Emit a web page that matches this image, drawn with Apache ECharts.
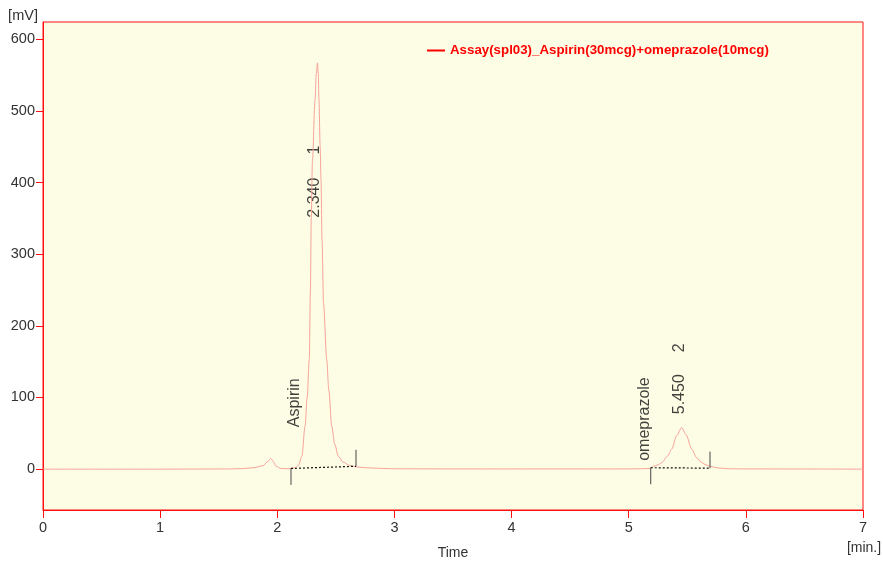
<!DOCTYPE html>
<html>
<head>
<meta charset="utf-8">
<script src="https://cdn.jsdelivr.net/npm/echarts@6/dist/echarts.min.js"></script>
<style>
  html, body { margin: 0; padding: 0; background: #fff; }
  #chart { width: 883px; height: 565px; }
</style>
</head>
<body>
<div id="chart"></div>
<script>
// trace: retention time [min] / signal [mV]
const traceName = 'Assay(spl03)_Aspirin(30mcg)+omeprazole(10mcg)'
const times = [0, 0.5, 1.0, 1.4, 1.6, 1.7, 1.8, 1.88, 1.92, 1.944, 1.965, 1.99, 2.03, 2.1,
  2.15, 2.18, 2.21, 2.237, 2.255, 2.273, 2.283, 2.29, 2.3, 2.322, 2.333, 2.343,
  2.35, 2.356, 2.366, 2.373, 2.382, 2.395, 2.422, 2.44, 2.465, 2.49, 2.521, 2.56,
  2.621, 2.68, 2.75, 2.9, 3.0, 3.5, 4.0, 4.5, 5.0, 5.1,
  5.188, 5.21, 5.25, 5.282, 5.33, 5.367, 5.41, 5.452, 5.49, 5.538, 5.58, 5.623,
  5.66, 5.694, 5.75, 5.85, 6.0, 6.5, 7.0]
const signal = [0, 0, 0, 0.2, 0.3, 0.8, 2, 5, 11, 15, 11, 4, 1, 0.5,
  2, 5, 18, 60, 100, 153, 250, 350, 430, 515, 552, 567,
  552, 515, 450, 404, 320, 230, 153, 110, 60, 35, 18, 10,
  5, 3, 2, 1, 0.5, 0.3, 0.3, 0.3, 0.3, 0.5,
  1, 4, 6, 9, 18, 28, 47, 58, 48, 28, 16, 9,
  6, 4, 2, 0.5, 0.3, 0.2, 0]

// integration baselines
const baseStartT = [2.117, 5.188]
const baseStartV = [1, 2]
const baseEndT = [2.672, 5.694]
const baseEndV = [4, 1.4]
const tickLen = 23

// peak annotations (anchor = bottom of vertical text)
const labelText = ['Aspirin', '2.340', '1', 'omeprazole', '5.450', '2']
const labelT = [2.147, 2.322, 2.322, 5.139, 5.438, 5.438]
const labelV = [58.5, 351, 439, 11.6, 76.6, 163]

const yTicks = [0, 100, 200, 300, 400, 500, 600]

const narrow = "'Liberation Sans Narrow', 'Arial Narrow', 'Liberation Sans', sans-serif"
const regular = "'Liberation Sans', Arial, sans-serif"
const red = '#ff1010'

const chart = echarts.init(document.getElementById('chart'))

const extra = []
baseStartT.forEach((t, i) => {
  extra.push({
    type: 'line', silent: true, symbol: 'none',
    data: [[t, baseStartV[i]], [baseEndT[i], baseEndV[i]]],
    lineStyle: { color: '#111', width: 1.2, type: [2, 2] }
  })
  extra.push({
    type: 'line', silent: true, symbol: 'none',
    data: [[t, baseStartV[i]], [t, baseStartV[i] - tickLen]],
    lineStyle: { color: '#444', width: 1 }
  })
  extra.push({
    type: 'line', silent: true, symbol: 'none',
    data: [[baseEndT[i], baseEndV[i]], [baseEndT[i], baseEndV[i] + tickLen]],
    lineStyle: { color: '#444', width: 1 }
  })
})

const option = {
  animation: false,
  backgroundColor: '#fff',
  grid: {
    left: 43, right: 20, top: 22, bottom: 54,
    show: true, backgroundColor: '#fdfde6', borderColor: red, borderWidth: 1
  },
  legend: {
    data: [{ name: traceName, icon: 'rect' }],
    left: 422, top: 39,
    itemWidth: 18, itemHeight: 2,
    textStyle: { color: '#ff0000', fontWeight: 'bold', fontSize: 13.3, fontFamily: narrow }
  },
  xAxis: {
    type: 'value', min: 0, max: 7, interval: 1,
    name: 'Time', nameLocation: 'middle', nameGap: 36,
    nameTextStyle: { color: '#333', fontSize: 14, fontFamily: narrow },
    axisLine: { onZero: false, lineStyle: { color: red } },
    axisTick: { length: 8, lineStyle: { color: red } },
    axisLabel: { color: '#333', fontSize: 14.5, fontFamily: narrow, margin: 10 },
    splitLine: { show: false }
  },
  yAxis: {
    type: 'value', min: -57, max: 624,
    axisLine: { show: true, onZero: false, lineStyle: { color: red } },
    axisTick: { show: true, length: 7, customValues: yTicks, lineStyle: { color: red } },
    axisLabel: { color: '#333', fontSize: 14.5, fontFamily: narrow, margin: 8, customValues: yTicks },
    splitLine: { show: false }
  },
  graphic: [
    { type: 'text', x: 23, y: 16, style: { text: '[mV]', align: 'center', verticalAlign: 'middle', textAlign: 'center', textVerticalAlign: 'middle', fill: '#333', font: '14.5px ' + narrow } },
    { type: 'text', x: 864, y: 548, style: { text: '[min.]', align: 'center', verticalAlign: 'middle', textAlign: 'center', textVerticalAlign: 'middle', fill: '#333', font: '14px ' + narrow } }
  ],
  series: [
    {
      name: traceName, type: 'line', showSymbol: false, symbol: 'none',
      smooth: 0.3, smoothMonotone: 'x',
      data: times.map((t, i) => [t, signal[i]]),
      color: '#ff0000',
      lineStyle: { color: '#f7a39a', width: 1 },
      z: 3
    },
    ...extra,
    {
      type: 'scatter', silent: true, symbolSize: 0,
      data: labelText.map((s, i) => ({ value: [labelT[i], labelV[i]], name: s })),
      label: {
        show: true, position: 'inside', rotate: 90, align: 'left', verticalAlign: 'middle',
        formatter: p => p.name,
        color: '#111', fontSize: 16, fontFamily: regular
      }
    }
  ]
}

chart.setOption(option)
</script>
</body>
</html>
